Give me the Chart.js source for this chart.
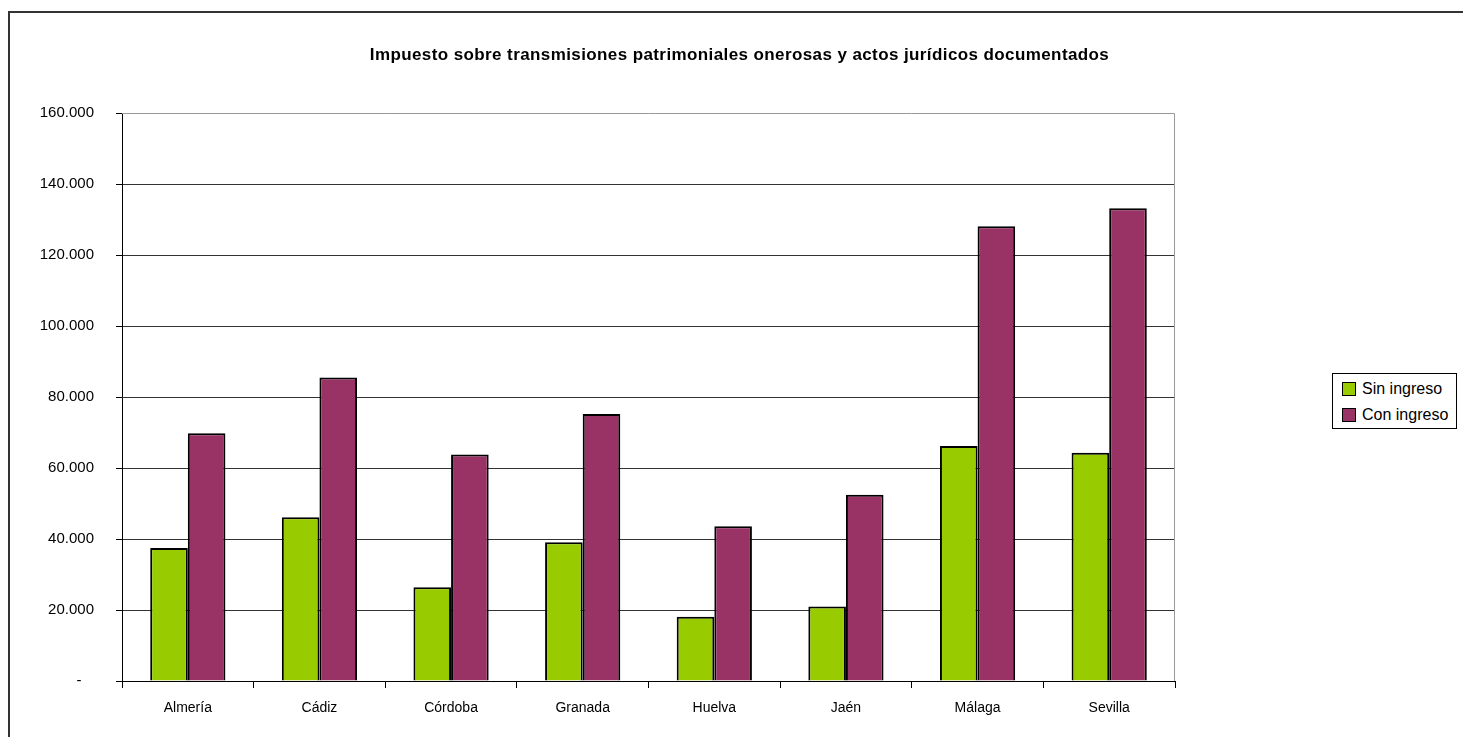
<!DOCTYPE html>
<html lang="es">
<head>
<meta charset="utf-8">
<title>Impuesto sobre transmisiones patrimoniales</title>
<script src="https://cdn.jsdelivr.net/npm/chart.js@4.4.1/dist/chart.umd.min.js"></script>
<style>
    html, body { margin: 0; padding: 0; background: #fff; overflow: hidden; }
    #wrap { position: relative; width: 1463px; height: 737px; overflow: hidden; }
    #marco { position: absolute; left: 8px; top: 11px; width: 2000px; height: 2000px; border: 2px solid #333; }
    #grafico { position: absolute; left: 0; top: 0; }
    #titulo {
        position: absolute; left: 0; top: 45px; width: 1479px; text-align: center;
        font-family: 'Liberation Sans', Arial, sans-serif; font-weight: bold; font-size: 17px;
        letter-spacing: 0.4px; line-height: 20px; color: #000; white-space: nowrap;
    }
    #leyenda {
        position: absolute; left: 1332px; top: 373px; width: 125px; height: 56px; box-sizing: border-box;
        border: 1px solid #000; background: #fff; padding-top: 2px;
        font-family: 'Liberation Sans', Arial, sans-serif; font-size: 16px; color: #000;
    }
    #leyenda .item { display: flex; align-items: center; height: 26px; padding-left: 9px; }
    #leyenda .caja { width: 12px; height: 12px; border: 1px solid #000; margin-right: 6px; }
</style>
</head>
<body>
<div id="wrap">
    <div id="marco"></div>
    <canvas id="grafico" width="1463" height="737"></canvas>
    <div id="titulo"></div>
    <div id="leyenda"></div>
</div>
<script>
// ── Datos ───────────────────────────────────────────────────────
const TITULO = 'Impuesto sobre transmisiones patrimoniales onerosas y actos jurídicos documentados';
const provincias = ['Almería', 'Cádiz', 'Córdoba', 'Granada', 'Huelva', 'Jaén', 'Málaga', 'Sevilla'];
const sinIngreso = [37500, 46100, 26400, 39100, 18100, 21000, 66200, 64300];
const conIngreso = [69800, 85500, 63800, 75200, 43600, 52500, 128100, 133200];
const series = ['Sin ingreso', 'Con ingreso'];
const colores = ['#99CC00', '#993366'];

// formato 160.000 / "-" para el cero
function formatoMiles(v) {
    if (v === 0) return '-   ';
    return String(v).replace(/\B(?=(\d{3})+(?!\d))/g, '.');
}

// borde gris del área de trazado (arriba y derecha)
const bordeArea = {
    id: 'bordeArea',
    afterDraw(chart) {
        const { ctx, chartArea: a } = chart;
        ctx.save();
        ctx.strokeStyle = '#999';
        ctx.lineWidth = 1;
        ctx.beginPath();
        ctx.moveTo(a.left, a.top + 0.5);
        ctx.lineTo(a.right - 0.5, a.top + 0.5);
        ctx.lineTo(a.right - 0.5, a.bottom);
        ctx.stroke();
        ctx.restore();
    }
};

document.getElementById('titulo').textContent = TITULO;

const ctx = document.getElementById('grafico').getContext('2d');
new Chart(ctx, {
    type: 'bar',
    data: {
        labels: provincias,
        datasets: [
            { label: series[0], data: sinIngreso, backgroundColor: colores[0] },
            { label: series[1], data: conIngreso, backgroundColor: colores[1] }
        ]
    },
    options: {
        responsive: false,
        animation: false,
        devicePixelRatio: 1,
        layout: { padding: { left: 0, right: 288, top: 113, bottom: 0 } },
        datasets: {
            bar: {
                borderColor: '#000',
                borderWidth: 2,
                categoryPercentage: 2 / 3.5,
                barPercentage: 1
            }
        },
        plugins: {
            legend: { display: false },
            tooltip: { enabled: false },
            title: { display: false }
        },
        scales: {
            x: {
                grid: { offset: true, drawOnChartArea: false, tickLength: 7, color: '#000' },
                border: { color: '#000', width: 1 },
                ticks: {
                    color: '#000', padding: 12,
                    font: { family: "'Liberation Sans', Arial, sans-serif", size: 14 }
                },
                afterFit(scale) { scale.height = 56; }
            },
            y: {
                min: 0,
                max: 160000,
                grid: {
                    color: c => c.tick && c.tick.value === 160000 ? 'rgba(0,0,0,0)' : '#333',
                    tickColor: '#000',
                    tickLength: 6
                },
                border: { color: '#000', width: 1 },
                ticks: {
                    stepSize: 20000,
                    color: '#000',
                    padding: 22,
                    font: { family: "'Liberation Sans', Arial, sans-serif", size: 15 },
                    callback: v => formatoMiles(v)
                },
                afterFit(scale) { scale.width = 122; }
            }
        }
    },
    plugins: [bordeArea]
});

// ── Leyenda HTML ────────────────────────────────────────────────
const leyenda = document.getElementById('leyenda');
series.forEach((nombre, i) => {
    leyenda.innerHTML += `<div class="item"><span class="caja" style="background:${colores[i]}"></span>${nombre}</div>`;
});
</script>
</body>
</html>
